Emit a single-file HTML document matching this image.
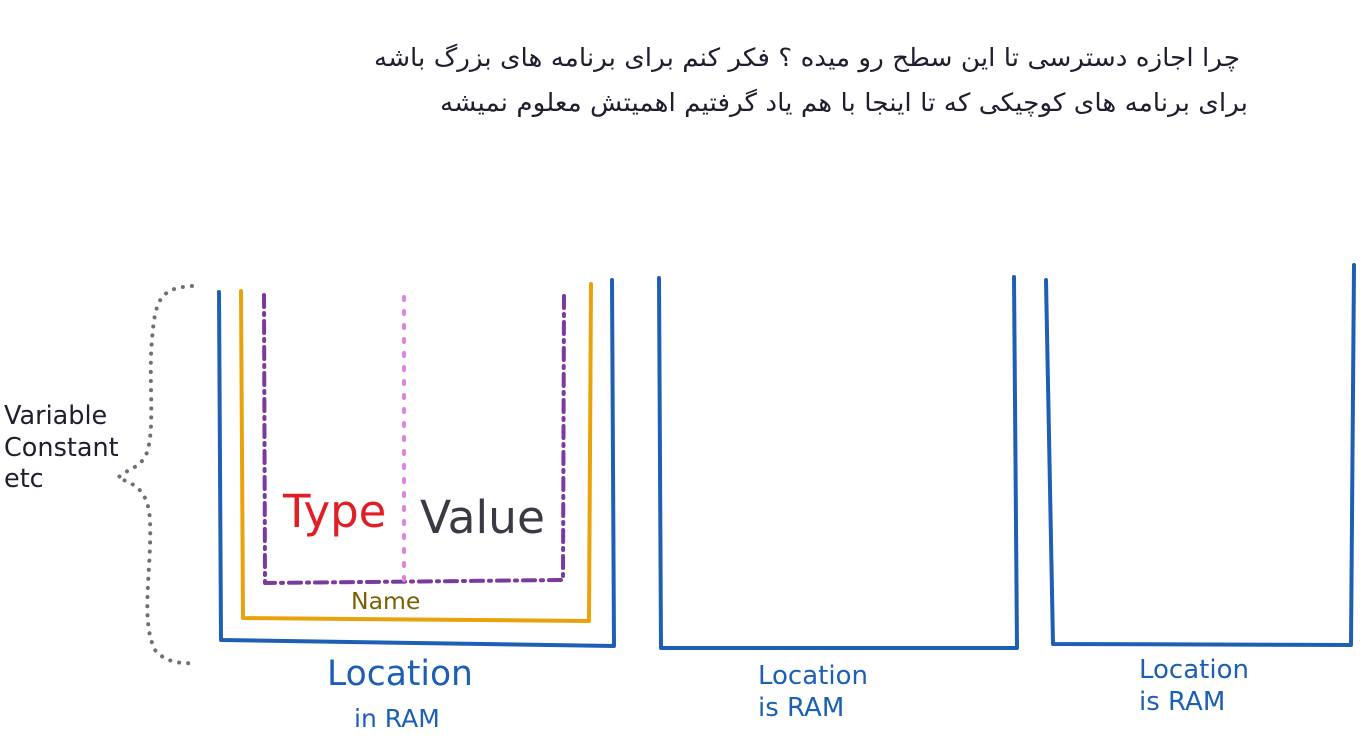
<!DOCTYPE html>
<html><head><meta charset="utf-8"><style>
html,body{margin:0;padding:0;background:#fff;}
svg{display:block;font-family:"DejaVu Sans","Liberation Sans",sans-serif;}
</style></head><body>
<svg width="1366" height="753" viewBox="0 0 1366 753" xmlns="http://www.w3.org/2000/svg">
<g fill="#1e1e2e" font-size="25">
<text x="1240" y="66" direction="rtl" text-anchor="start" textLength="866" lengthAdjust="spacingAndGlyphs">چرا اجازه دسترسی تا این سطح رو میده ؟ فکر کنم برای برنامه های بزرگ باشه</text>
<text x="1248" y="111" direction="rtl" text-anchor="start" textLength="808" lengthAdjust="spacingAndGlyphs">برای برنامه های کوچیکی که تا اینجا با هم یاد گرفتیم اهمیتش معلوم نمیشه</text>
</g>
<path d="M192,286 C160,288 155,300 152,340 C148,380 156,430 146,455 C140,468 125,470 118,478 C135,484 148,490 150,520 C152,570 140,620 155,650 C165,662 180,664 196,663" fill="none" stroke="#707070" stroke-width="4" stroke-linecap="round" stroke-dasharray="0.1 9"/>
<g fill="#1e1e2e" font-size="25.5">
<text x="4" y="424">Variable</text><text x="4" y="456">Constant</text><text x="4" y="487">etc</text>
</g>
<path d="M219,292 L221,640 L614,646 L612,280" fill="none" stroke="#1c5fb4" stroke-width="4" stroke-linejoin="round" stroke-linecap="round"/>
<path d="M241,291 L243,618 L589,621 L591,284" fill="none" stroke="#e8a30c" stroke-width="4" stroke-linejoin="round" stroke-linecap="round"/>
<path d="M264,295 L265,583 L563,580 L564,293" fill="none" stroke="#7b3a9e" stroke-width="4" stroke-linejoin="round" stroke-linecap="round" stroke-dasharray="12 6 2 6"/>
<line x1="404" y1="297" x2="404" y2="580" stroke="#df85e0" stroke-width="4" stroke-linecap="round" stroke-dasharray="3 11"/>
<text x="283" y="527" font-size="45" fill="#e01e25">Type</text>
<text x="420" y="533" font-size="45.5" fill="#3a3a45">Value</text>
<text x="351" y="609" font-size="23.5" fill="#7a6000">Name</text>
<text x="327" y="685" font-size="34.5" fill="#1c5fb4">Location</text>
<text x="354" y="727" font-size="25" fill="#1c5fb4">in RAM</text>
<path d="M659,278 L661,648 L1017,648 L1014,277" fill="none" stroke="#1c5fb4" stroke-width="4" stroke-linejoin="round" stroke-linecap="round"/>
<g fill="#1c5fb4" font-size="26"><text x="758" y="684">Location</text><text x="758" y="716">is RAM</text></g>
<path d="M1046,280 L1053,644 L1351,645 L1354,265" fill="none" stroke="#1c5fb4" stroke-width="4" stroke-linejoin="round" stroke-linecap="round"/>
<g fill="#1c5fb4" font-size="26"><text x="1139" y="678">Location</text><text x="1139" y="710">is RAM</text></g>
</svg>
</body></html>
